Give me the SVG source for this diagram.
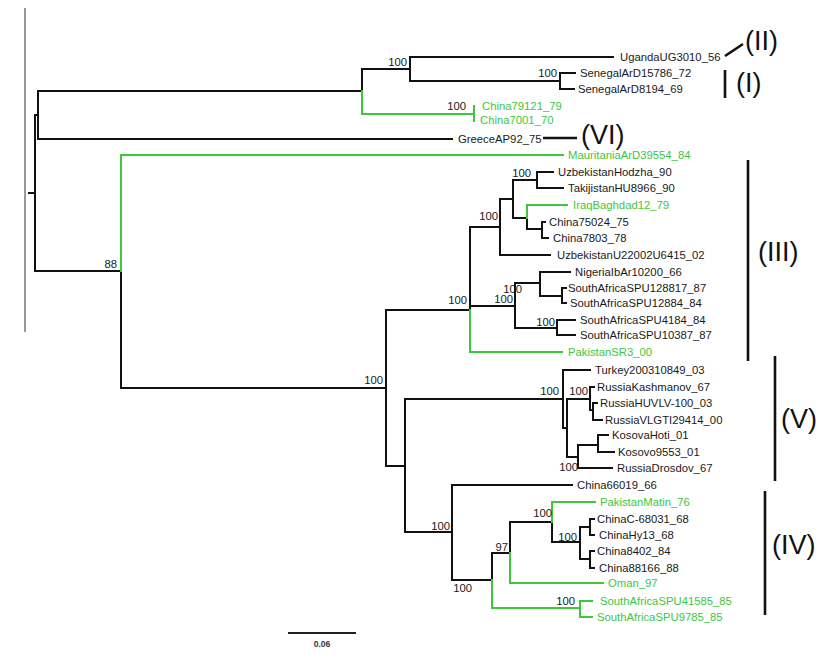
<svg xmlns="http://www.w3.org/2000/svg" width="833" height="663" viewBox="0 0 833 663">
<style>
.b{fill:none;stroke:#111;stroke-width:2;stroke-linecap:square}
.g{fill:none;stroke:#3cc83c;stroke-width:2;stroke-linecap:square}
.m{fill:none;stroke:#111;stroke-width:2.6}
.t{font-family:"Liberation Sans",Arial,sans-serif;font-size:11.3px;fill:#1a1a1a}
.tg{font-family:"Liberation Sans",Arial,sans-serif;font-size:11.3px;fill:#3cc83c}
.bs{font-family:"Liberation Sans",Arial,sans-serif;font-size:11.3px;fill:#1a1a1a;text-anchor:end}
.cl{font-family:"Liberation Sans",Arial,sans-serif;font-size:27px;fill:#111}
</style>
<rect width="833" height="663" fill="#fff"/>
<path d="M25 8V332" stroke="#777" stroke-width="1.5" fill="none"/>
<g id="connectors">
<path class="b" d="M29 193H35M35 115V271M35 115H38M38 91V139M38 91H362M362 69V91M362 69H410M410 57V81M410 57H613M410 81H560M560 73V89M560 73H575M560 89H574M38 139H452M35 271H121M121 271V388M121 388H386M386 310V466M386 310H470M470 227V310M470 227H500M500 199V255M500 255H550M500 199H513M513 180V218M513 180H537M537 172V188M537 172H553M537 188H563M513 218H527M527 218V229M527 229H542M542 222V238M542 222H545M542 238H548M470 306H515M515 283V328M515 283H540M540 272V296M540 272H570M540 296H562M562 288V303M562 288H566M562 303H566M515 328H557M557 320V335M557 320H575M557 335H575M386 466H405M405 399V532M405 399H563M563 370V428M563 370H590M563 428H567M567 399V457M567 399H590M590 387V410M590 387H594M590 410H593M593 403V420M593 403H597M593 420H602M567 457H578M578 445V468M578 445H598M598 435V452M598 435H608M598 452H614M578 468H612M405 532H452M452 485V580M452 485H572M452 580H492M492 553V580M492 553H510M510 522V553M510 522H552M552 522V542M552 542H580M580 527V559M580 527H590M580 559H590M590 519V535M590 519H594M590 535H594M590 551V568M590 551H594M590 568H594"/>
<path class="g" d="M362 91V114H474M474 106V121M121 271V155H563M470 310V352H562M527 218V205H567M492 580V608H580M580 601V617M580 601H592M580 617H592M510 553V583H603M552 522V502H595"/>
</g>
<g id="clades">
<path class="m" d="M725 56L743 44M725 70V98M748 160V361M775 356V481M765 491V615M543 138H577"/>
<text class="cl" x="745" y="50">(II)</text>
<text class="cl" x="736" y="92">(I)</text>
<text class="cl" x="581" y="144">(VI)</text>
<text class="cl" x="758" y="261">(III)</text>
<text class="cl" x="781" y="428">(V)</text>
<text class="cl" x="772" y="554">(IV)</text>
</g>
<g id="bootstrap">
<text class="bs" x="407" y="66">100</text>
<text class="bs" x="557" y="77">100</text>
<text class="bs" x="466" y="110">100</text>
<text class="bs" x="117" y="268">88</text>
<text class="bs" x="383" y="384">100</text>
<text class="bs" x="498" y="220">100</text>
<text class="bs" x="531" y="177">100</text>
<text class="bs" x="467" y="304">100</text>
<text class="bs" x="522" y="293">100</text>
<text class="bs" x="513" y="303">100</text>
<text class="bs" x="555" y="326">100</text>
<text class="bs" x="559" y="395">100</text>
<text class="bs" x="588" y="395">100</text>
<text class="bs" x="578" y="471">100</text>
<text class="bs" x="450" y="530">100</text>
<text class="bs" x="472" y="592">100</text>
<text class="bs" x="508" y="551">97</text>
<text class="bs" x="552" y="517">100</text>
<text class="bs" x="577" y="541">100</text>
<text class="bs" x="575" y="605">100</text>
</g>
<g id="tip-UgandaUG3010_56"><text class="t" x="620" y="61">UgandaUG3010_56</text></g>
<g id="tip-SenegalArD15786_72"><text class="t" x="580" y="77">SenegalArD15786_72</text></g>
<g id="tip-SenegalArD8194_69"><text class="t" x="578" y="93">SenegalArD8194_69</text></g>
<g id="tip-China79121_79"><text class="tg" x="482" y="110">China79121_79</text></g>
<g id="tip-China7001_70"><text class="tg" x="480" y="124">China7001_70</text></g>
<g id="tip-GreeceAP92_75"><text class="t" x="458" y="143">GreeceAP92_75</text></g>
<g id="tip-MauritaniaArD39554_84"><text class="tg" x="568" y="159">MauritaniaArD39554_84</text></g>
<g id="tip-UzbekistanHodzha_90"><text class="t" x="558" y="176">UzbekistanHodzha_90</text></g>
<g id="tip-TakijistanHU8966_90"><text class="t" x="568" y="192">TakijistanHU8966_90</text></g>
<g id="tip-IraqBaghdad12_79"><text class="tg" x="573" y="209">IraqBaghdad12_79</text></g>
<g id="tip-China75024_75"><text class="t" x="549" y="226">China75024_75</text></g>
<g id="tip-China7803_78"><text class="t" x="553" y="242">China7803_78</text></g>
<g id="tip-UzbekistanU22002U6415_02"><text class="t" x="557" y="259">UzbekistanU22002U6415_02</text></g>
<g id="tip-NigeriaIbAr10200_66"><text class="t" x="575" y="276">NigeriaIbAr10200_66</text></g>
<g id="tip-SouthAfricaSPU128817_87"><text class="t" x="568" y="292">SouthAfricaSPU128817_87</text></g>
<g id="tip-SouthAfricaSPU12884_84"><text class="t" x="570" y="307">SouthAfricaSPU12884_84</text></g>
<g id="tip-SouthAfricaSPU4184_84"><text class="t" x="580" y="324">SouthAfricaSPU4184_84</text></g>
<g id="tip-SouthAfricaSPU10387_87"><text class="t" x="580" y="339">SouthAfricaSPU10387_87</text></g>
<g id="tip-PakistanSR3_00"><text class="tg" x="568" y="356">PakistanSR3_00</text></g>
<g id="tip-Turkey200310849_03"><text class="t" x="595" y="374">Turkey200310849_03</text></g>
<g id="tip-RussiaKashmanov_67"><text class="t" x="597" y="391">RussiaKashmanov_67</text></g>
<g id="tip-RussiaHUVLV-100_03"><text class="t" x="600" y="407">RussiaHUVLV-100_03</text></g>
<g id="tip-RussiaVLGTI29414_00"><text class="t" x="605" y="424">RussiaVLGTI29414_00</text></g>
<g id="tip-KosovaHoti_01"><text class="t" x="612" y="439">KosovaHoti_01</text></g>
<g id="tip-Kosovo9553_01"><text class="t" x="618" y="456">Kosovo9553_01</text></g>
<g id="tip-RussiaDrosdov_67"><text class="t" x="617" y="472">RussiaDrosdov_67</text></g>
<g id="tip-China66019_66"><text class="t" x="577" y="489">China66019_66</text></g>
<g id="tip-PakistanMatin_76"><text class="tg" x="600" y="506">PakistanMatin_76</text></g>
<g id="tip-ChinaC-68031_68"><text class="t" x="597" y="523">ChinaC-68031_68</text></g>
<g id="tip-ChinaHy13_68"><text class="t" x="599" y="539">ChinaHy13_68</text></g>
<g id="tip-China8402_84"><text class="t" x="597" y="555">China8402_84</text></g>
<g id="tip-China88166_88"><text class="t" x="599" y="572">China88166_88</text></g>
<g id="tip-Oman_97"><text class="tg" x="608" y="587">Oman_97</text></g>
<g id="tip-SouthAfricaSPU41585_85"><text class="tg" x="600" y="605">SouthAfricaSPU41585_85</text></g>
<g id="tip-SouthAfricaSPU9785_85"><text class="tg" x="597" y="621">SouthAfricaSPU9785_85</text></g>
<g id="scale">
<path d="M288 633H356" stroke="#222" stroke-width="2" fill="none"/>
<text x="322" y="647" text-anchor="middle" font-family="Liberation Sans, Arial, sans-serif" font-size="8.5" font-weight="bold" fill="#333">0.06</text>
</g>
</svg>
